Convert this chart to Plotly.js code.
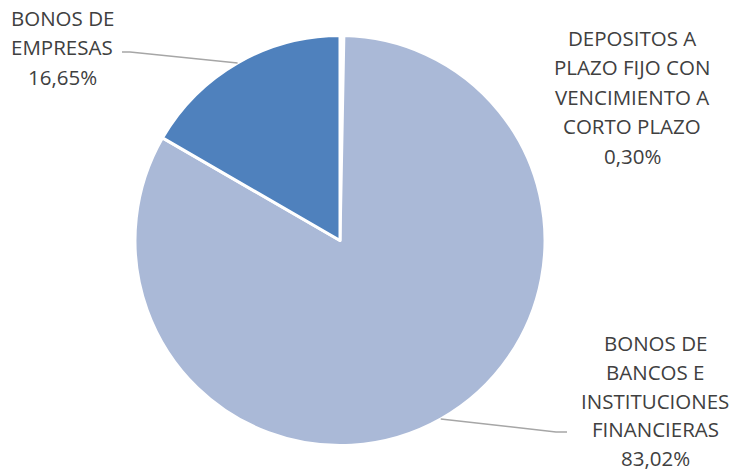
<!DOCTYPE html>
<html><head><meta charset="utf-8">
<script src="https://cdn.plot.ly/plotly-3.0.1.min.js"></script>
<style>html,body{margin:0;padding:0;background:#fff}#c{width:734px;height:473px}</style>
</head><body><div id="c"></div>
<script>
const categories = ["DEPOSITOS A PLAZO FIJO CON VENCIMIENTO A CORTO PLAZO", "BONOS DE BANCOS E INSTITUCIONES FINANCIERAS", "BONOS DE EMPRESAS"];
const values = [0.30, 83.02, 16.65];
const pctLabels = ["0,30%", "83,02%", "16,65%"];
const labelLines = [
  ["DEPOSITOS A", "PLAZO FIJO CON", "VENCIMIENTO A", "CORTO PLAZO"],
  ["BONOS DE", "BANCOS E", "INSTITUCIONES", "FINANCIERAS"],
  ["BONOS DE", "EMPRESAS"]
];
const colors = ["#FFFFFF", "#AAB9D7", "#4F81BD"];

const W = 734, H = 473;
const cx = 340, cy = 240.5, R = 205;
const px = x => x / W, py = y => 1 - y / H;

// label block anchors (pixel): center x, first line y, line gap
const labelPos = [
  {x: 632, y: 38, gap: 29.4, leader: false},
  {x: 655, y: 343, gap: 28.8, leader: true, end: [556, 432], bend: [567, 432]},
  {x: 62, y: 18, gap: 29.4, leader: true, end: [130, 52], bend: [122, 52]}
];

const total = values.reduce((a, b) => a + b, 0);
let cum = 0;
const annotations = [], shapes = [];
values.forEach((v, i) => {
  const mid = (cum + v / 2) / total * 2 * Math.PI;
  cum += v;
  const lines = labelLines[i].concat([pctLabels[i]]);
  const lp = labelPos[i];
  lines.forEach((t, k) => {
    annotations.push({
      text: t, xref: 'paper', yref: 'paper',
      x: px(lp.x), y: py(lp.y + k * lp.gap),
      xanchor: 'center', yanchor: 'middle', showarrow: false, borderpad: 0,
      font: {family: 'Open Sans, sans-serif', size: 20.5, color: '#404040'}
    });
  });
  if (lp.leader) {
    const ex = cx + R * Math.sin(mid), ey = cy - R * Math.cos(mid);
    shapes.push({
      type: 'path', xref: 'paper', yref: 'paper',
      path: `M ${px(ex)} ${py(ey)} L ${px(lp.end[0])} ${py(lp.end[1])} L ${px(lp.bend[0])} ${py(lp.bend[1])}`,
      line: {color: '#A6A6A6', width: 1.5}
    });
  }
});

const data = [{
  type: 'pie', labels: categories, values: values,
  sort: false, direction: 'clockwise', rotation: 0,
  marker: {colors: colors, line: {color: '#FFFFFF', width: 3}},
  textinfo: 'none', hoverinfo: 'label+percent',
  domain: {x: [px(cx - R), px(cx + R)], y: [py(cy + R), py(cy - R)]},
  showlegend: false
}];

const layout = {
  width: W, height: H, margin: {l: 0, r: 0, t: 0, b: 0},
  paper_bgcolor: '#FFFFFF', plot_bgcolor: '#FFFFFF',
  showlegend: false, annotations: annotations, shapes: shapes
};
Plotly.newPlot('c', data, layout, {displayModeBar: false, staticPlot: true});
</script></body></html>
